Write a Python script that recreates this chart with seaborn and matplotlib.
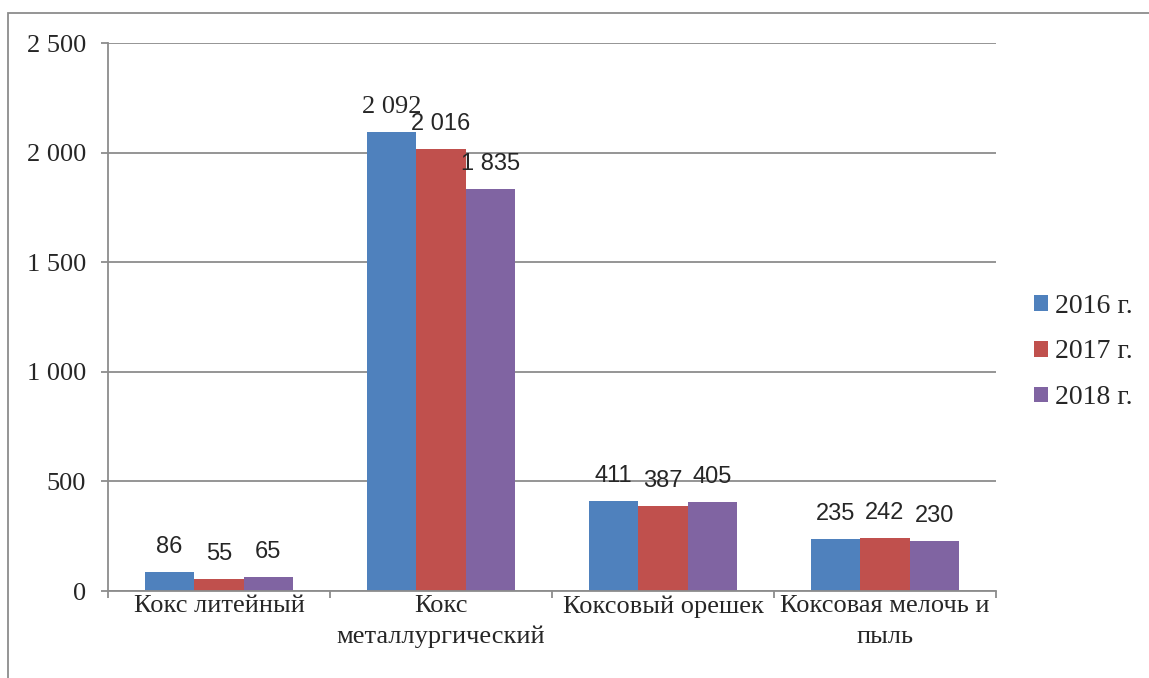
import pandas as pd
import numpy as np
import matplotlib
matplotlib.use("Agg")
import matplotlib.pyplot as plt
from matplotlib.ticker import FuncFormatter, FixedLocator
from matplotlib.patches import Rectangle
import seaborn as sns

# data
categories = ["Кокс литейный", "Кокс\nметаллургический", "Коксовый орешек", "Коксовая мелочь и\nпыль"]
years = ["2016 г.", "2017 г.", "2018 г."]
v2016 = [86, 2092, 411, 235]
v2017 = [55, 2016, 387, 242]
v2018 = [65, 1835, 405, 230]
yticks = [0, 500, 1000, 1500, 2000, 2500]

colors = ["#4F81BD", "#C0504D", "#8064A2"]

df = pd.DataFrame({
    "cat": categories * 3,
    "year": [years[0]] * 4 + [years[1]] * 4 + [years[2]] * 4,
    "val": v2016 + v2017 + v2018,
})

def fmt(v, pos=None):
    return f"{int(v):,}".replace(",", " ")

sns.set_style("white")
plt.rcParams["font.family"] = ["Liberation Serif", "DejaVu Serif"]

fig = plt.figure(figsize=(11.49, 6.78), dpi=100)
ax = fig.add_axes([108 / 1149, 87 / 678, (996 - 108) / 1149, (591 - 43) / 678])

sns.barplot(data=df, x="cat", y="val", hue="year", order=categories, hue_order=years,
            palette=colors, width=0.667, gap=0, ax=ax, errorbar=None, saturation=1,
            linewidth=0)

ax.set_ylim(0, 2500)
ax.set_xlim(-0.5, 3.5)
ax.set_xlabel("")
ax.set_ylabel("")

# gridlines & axes
ax.yaxis.set_major_locator(FixedLocator(yticks))
ax.yaxis.set_major_formatter(FuncFormatter(fmt))
ax.grid(axis="y", color="#8c8c8c", linewidth=1.3)
ax.set_axisbelow(True)
for s in ["top", "right"]:
    ax.spines[s].set_visible(False)
for s in ["left", "bottom"]:
    ax.spines[s].set_color("#8c8c8c")
    ax.spines[s].set_linewidth(1.3)

ax.tick_params(axis="y", which="major", direction="out", length=5, width=1.3,
               color="#8c8c8c", left=True, pad=11, labelsize=19)
ax.set_xticks(np.arange(-0.5, 4, 1), minor=True)
ax.tick_params(axis="x", which="minor", direction="out", length=5, width=1.3,
               color="#8c8c8c", bottom=True)
ax.tick_params(axis="x", which="major", length=0, pad=3, labelsize=19)
for t in ax.get_xticklabels():
    t.set_linespacing(1.5)

# value labels
for i, cont in enumerate(ax.containers):
    for j, bar in enumerate(cont):
        h = bar.get_height()
        if i == 0 and j == 1:
            fam, fs = ["Liberation Serif"], 19
        else:
            fam, fs = ["Liberation Sans"], 17
        ax.annotate(fmt(h), (bar.get_x() + bar.get_width() / 2, h),
                    xytext=(0, 18), textcoords="offset points",
                    ha="center", va="center", fontsize=fs, fontfamily=fam)

# legend
ax.legend(loc="center left", bbox_to_anchor=(1034 / 1149, (678 - 352) / 678),
          bbox_transform=fig.transFigure, frameon=False, fontsize=20,
          handlelength=0.5, handleheight=0.5, handletextpad=0.25,
          labelspacing=0.75, borderaxespad=0, borderpad=0)

# outer frame (only top & left visible in reference)
fig.add_artist(Rectangle((8 / 1149, -0.1), 1.2, 0.1 + (678 - 13) / 678,
                         transform=fig.transFigure, fill=False,
                         edgecolor="#8c8c8c", linewidth=1.3))

fig.savefig("out.png", dpi=100)
